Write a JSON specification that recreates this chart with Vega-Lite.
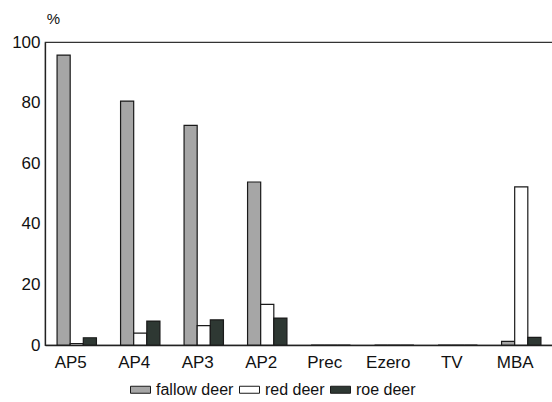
{
  "$schema": "https://vega.github.io/schema/vega-lite/v6.json",
  "autosize": {"type": "none"},
  "padding": {"left": 45, "top": 42, "right": 0, "bottom": 57},
  "width": 508,
  "height": 303,
  "background": "white",
  "config": {
    "font": "Liberation Sans",
    "view": {"stroke": "#333", "strokeWidth": 1.2},
    "axis": {"labelFont": "Liberation Sans", "labelColor": "#111", "titleColor": "#111", "grid": false, "ticks": false, "domainColor": "#222"}
  },
  "data": {
    "values": [
      {"site": "AP5", "species": "fallow deer", "pct": 95.7},
      {"site": "AP5", "species": "red deer", "pct": 0.5},
      {"site": "AP5", "species": "roe deer", "pct": 2.4},
      {"site": "AP4", "species": "fallow deer", "pct": 80.5},
      {"site": "AP4", "species": "red deer", "pct": 3.9},
      {"site": "AP4", "species": "roe deer", "pct": 7.9},
      {"site": "AP3", "species": "fallow deer", "pct": 72.5},
      {"site": "AP3", "species": "red deer", "pct": 6.4},
      {"site": "AP3", "species": "roe deer", "pct": 8.3},
      {"site": "AP2", "species": "fallow deer", "pct": 53.8},
      {"site": "AP2", "species": "red deer", "pct": 13.4},
      {"site": "AP2", "species": "roe deer", "pct": 8.9},
      {"site": "Prec", "species": "fallow deer", "pct": 0},
      {"site": "Prec", "species": "red deer", "pct": 0},
      {"site": "Prec", "species": "roe deer", "pct": 0},
      {"site": "Ezero", "species": "fallow deer", "pct": 0},
      {"site": "Ezero", "species": "red deer", "pct": 0},
      {"site": "Ezero", "species": "roe deer", "pct": 0},
      {"site": "TV", "species": "fallow deer", "pct": 0},
      {"site": "TV", "species": "red deer", "pct": 0},
      {"site": "TV", "species": "roe deer", "pct": 0},
      {"site": "MBA", "species": "fallow deer", "pct": 1.2},
      {"site": "MBA", "species": "red deer", "pct": 52.2},
      {"site": "MBA", "species": "roe deer", "pct": 2.5}
    ]
  },
  "mark": {"type": "bar", "stroke": "#1a1a1a", "strokeWidth": 1.2},
  "encoding": {
    "x": {
      "field": "site",
      "type": "nominal",
      "sort": ["AP5", "AP4", "AP3", "AP2", "Prec", "Ezero", "TV", "MBA"],
      "scale": {"paddingInner": 0.38, "paddingOuter": 0.19},
      "axis": {"title": null, "labelAngle": 0, "labelFontSize": 17, "labelPadding": 9, "labelOffset": -6, "domainWidth": 1.6}
    },
    "xOffset": {
      "field": "species",
      "type": "nominal",
      "sort": ["fallow deer", "red deer", "roe deer"],
      "scale": {"paddingInner": 0, "paddingOuter": 0}
    },
    "y": {
      "field": "pct",
      "type": "quantitative",
      "scale": {"domain": [0, 100], "nice": false},
      "axis": {"values": [0, 20, 40, 60, 80, 100], "labelFontSize": 17, "labelPadding": 5, "title": "%", "titleAngle": 0, "titleX": 8, "titleY": -24, "titleAlign": "center", "titleBaseline": "middle", "titleFontSize": 15, "titleFontWeight": "normal", "domainWidth": 1.3}
    },
    "fill": {
      "field": "species",
      "type": "nominal",
      "sort": ["fallow deer", "red deer", "roe deer"],
      "scale": {"domain": ["fallow deer", "red deer", "roe deer"], "range": ["#a6a6a6", "#ffffff", "#2e3833"]},
      "legend": {
        "title": null,
        "orient": "none",
        "direction": "horizontal",
        "legendX": 85,
        "legendY": 337,
        "symbolType": "M-1,-0.35H1V0.35H-1Z",
        "symbolSize": 400,
        "symbolStrokeColor": "#1a1a1a",
        "symbolStrokeWidth": 1,
        "labelFontSize": 16,
        "labelColor": "#111",
        "labelOffset": 5,
        "columnPadding": 3
      }
    }
  }
}
